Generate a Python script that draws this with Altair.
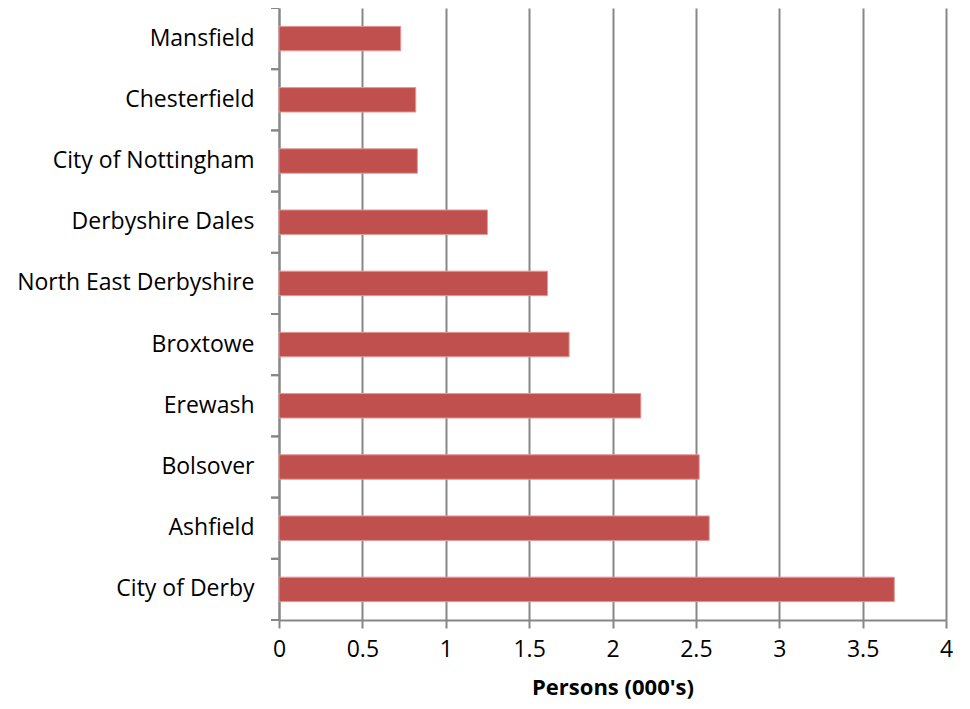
import altair as alt
import pandas as pd

districts = ["Mansfield", "Chesterfield", "City of Nottingham", "Derbyshire Dales",
             "North East Derbyshire", "Broxtowe", "Erewash", "Bolsover", "Ashfield",
             "City of Derby"]
persons = [0.73, 0.82, 0.83, 1.25, 1.61, 1.74, 2.17, 2.52, 2.58, 3.69]
x_ticks = [0, 0.5, 1, 1.5, 2, 2.5, 3, 3.5, 4]

df = pd.DataFrame({"district": districts, "persons": persons})

FONT = "Open Sans"
GREY = "#878787"
H = 612
STEP = H / len(districts)
PAD_OUT = 0.3
y_scale = alt.Scale(paddingInner=0.6, paddingOuter=PAD_OUT)

bars = alt.Chart(df).mark_bar(
    color="#C0504D", stroke="#E39A98", strokeWidth=1
).encode(
    y=alt.Y("district:N", sort=districts, title=None, scale=y_scale,
            axis=alt.Axis(ticks=False, labelPadding=25,
                          labelFontSize=23, labelFont=FONT, labelColor="#000000",
                          domainColor=GREY, domainWidth=2,
                          grid=False, labelLimit=400)),
    x=alt.X("persons:Q", title="Persons (000's)",
            scale=alt.Scale(domain=[0, 4], nice=False),
            axis=alt.Axis(values=x_ticks, tickSize=8, labelPadding=10,
                          labelFontSize=23, labelFont=FONT, labelColor="#000000",
                          labelFlush=False,
                          format="~g", domainColor=GREY, domainWidth=2,
                          tickColor=GREY, tickWidth=2, grid=True, gridColor=GREY,
                          gridWidth=2, titleFont=FONT, titleFontSize=22,
                          titleFontWeight="bold", titleColor="#000000",
                          titlePadding=16)),
)


def band_ticks(shift):
    return alt.Chart(df).mark_rule(color=GREY, strokeWidth=2).encode(
        y=alt.Y("district:N", sort=districts, bandPosition=0, title=None),
        yOffset=alt.value(shift),
        x=alt.value(-8), x2=alt.value(0),
    )


ticks_top = band_ticks(-PAD_OUT * STEP)
ticks_bottom = band_ticks(-PAD_OUT * STEP + STEP)

chart = alt.layer(bars, ticks_top, ticks_bottom).properties(
    width=667, height=H,
    autosize=alt.AutoSizeParams(type="none"),
    padding={"left": 271, "top": 0, "right": 15, "bottom": 85},
).configure_view(stroke=None)

chart.save("out.html", embed_options={"renderer": "svg", "actions": False})
